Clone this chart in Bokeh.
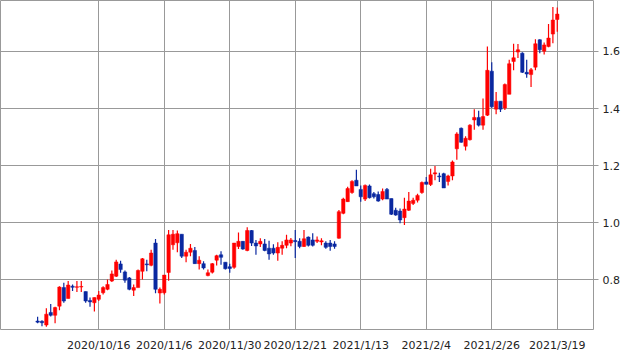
from bokeh.plotting import figure
from bokeh.models import ColumnDataSource, FixedTicker, Range1d, NumeralTickFormatter
from bokeh.embed import file_html
from bokeh.resources import INLINE

tick_pos = [14, 29, 44, 59, 74, 89, 104, 119]
tick_labels = ["2020/10/16", "2020/11/6", "2020/11/30", "2020/12/21",
               "2021/1/13", "2021/2/4", "2021/2/26", "2021/3/19"]

opens = [0.656, 0.655, 0.642, 0.686, 0.676, 0.708, 0.773, 0.735, 0.778, 0.774,
         0.775, 0.759, 0.728, 0.720, 0.732, 0.755, 0.767, 0.796, 0.813, 0.856,
         0.828, 0.807, 0.764, 0.773, 0.830, 0.856, 0.851, 0.929, 0.754, 0.755,
         0.826, 0.923, 0.930, 0.960, 0.883, 0.897, 0.903, 0.857, 0.857, 0.815,
         0.827, 0.869, 0.888, 0.862, 0.846, 0.844, 0.917, 0.935, 0.903, 0.973,
         0.929, 0.926, 0.926, 0.911, 0.911, 0.894, 0.911, 0.921, 0.929, 0.938,
         0.935, 0.917, 0.950, 0.940, 0.935, 0.933, 0.929, 0.929, 0.926, 0.946,
         1.033, 1.074, 1.106, 1.149, 1.117, 1.083, 1.129, 1.102, 1.099, 1.083,
         1.117, 1.085, 1.044, 1.041, 1.018, 1.044, 1.068, 1.079, 1.106, 1.143,
         1.134, 1.171, 1.164, 1.172, 1.145, 1.164, 1.259, 1.331, 1.268, 1.291,
         1.360, 1.369, 1.342, 1.377, 1.531, 1.398, 1.426, 1.402, 1.450, 1.565,
         1.598, 1.594, 1.527, 1.519, 1.545, 1.641, 1.601, 1.617, 1.661, 1.712]
highs = [0.671, 0.659, 0.701, 0.716, 0.706, 0.778, 0.790, 0.796, 0.784, 0.796,
         0.796, 0.759, 0.738, 0.738, 0.761, 0.778, 0.801, 0.833, 0.871, 0.867,
         0.833, 0.810, 0.784, 0.836, 0.877, 0.871, 0.906, 0.943, 0.773, 0.817,
         0.975, 0.975, 0.973, 0.960, 0.906, 0.926, 0.915, 0.883, 0.865, 0.836,
         0.859, 0.888, 0.900, 0.862, 0.857, 0.929, 0.966, 0.935, 0.984, 0.975,
         0.940, 0.946, 0.943, 0.937, 0.925, 0.932, 0.935, 0.958, 0.947, 0.975,
         0.946, 0.975, 0.952, 0.963, 0.952, 0.946, 0.935, 0.940, 0.935, 1.045,
         1.088, 1.126, 1.149, 1.186, 1.131, 1.134, 1.134, 1.108, 1.110, 1.120,
         1.122, 1.085, 1.053, 1.050, 1.088, 1.108, 1.088, 1.102, 1.145, 1.160,
         1.189, 1.199, 1.175, 1.175, 1.168, 1.218, 1.317, 1.334, 1.303, 1.345,
         1.398, 1.392, 1.435, 1.617, 1.562, 1.458, 1.426, 1.488, 1.571, 1.627,
         1.626, 1.597, 1.571, 1.542, 1.643, 1.643, 1.631, 1.696, 1.756, 1.754]
lows = [0.648, 0.638, 0.636, 0.672, 0.648, 0.694, 0.720, 0.735, 0.761, 0.758,
        0.758, 0.720, 0.706, 0.689, 0.726, 0.749, 0.764, 0.793, 0.810, 0.825,
        0.790, 0.764, 0.744, 0.773, 0.801, 0.830, 0.848, 0.753, 0.717, 0.749,
        0.797, 0.906, 0.897, 0.877, 0.862, 0.883, 0.857, 0.836, 0.836, 0.813,
        0.822, 0.850, 0.853, 0.836, 0.825, 0.839, 0.908, 0.906, 0.900, 0.919,
        0.888, 0.915, 0.900, 0.871, 0.888, 0.867, 0.888, 0.911, 0.918, 0.877,
        0.911, 0.915, 0.917, 0.917, 0.929, 0.921, 0.909, 0.902, 0.909, 0.944,
        1.030, 1.074, 1.102, 1.129, 1.074, 1.076, 1.085, 1.085, 1.074, 1.079,
        1.083, 1.027, 1.025, 0.998, 0.992, 1.041, 1.062, 1.071, 1.102, 1.134,
        1.129, 1.149, 1.143, 1.122, 1.131, 1.149, 1.221, 1.280, 1.253, 1.288,
        1.326, 1.337, 1.326, 1.374, 1.403, 1.380, 1.388, 1.395, 1.450, 1.534,
        1.577, 1.525, 1.508, 1.476, 1.534, 1.594, 1.589, 1.615, 1.629, 1.669]
closes = [0.652, 0.650, 0.680, 0.676, 0.703, 0.775, 0.726, 0.782, 0.774, 0.776,
          0.777, 0.726, 0.723, 0.738, 0.747, 0.773, 0.784, 0.821, 0.863, 0.836,
          0.799, 0.767, 0.773, 0.833, 0.874, 0.853, 0.894, 0.767, 0.767, 0.817,
          0.958, 0.960, 0.962, 0.883, 0.897, 0.911, 0.857, 0.869, 0.842, 0.825,
          0.857, 0.885, 0.879, 0.839, 0.840, 0.929, 0.935, 0.908, 0.973, 0.929,
          0.919, 0.935, 0.903, 0.891, 0.894, 0.914, 0.921, 0.940, 0.940, 0.934,
          0.917, 0.944, 0.921, 0.921, 0.940, 0.937, 0.914, 0.917, 0.917, 1.039,
          1.083, 1.120, 1.145, 1.129, 1.091, 1.131, 1.088, 1.091, 1.076, 1.110,
          1.083, 1.030, 1.027, 1.010, 1.048, 1.076, 1.079, 1.096, 1.141, 1.135,
          1.168, 1.175, 1.161, 1.122, 1.164, 1.213, 1.311, 1.282, 1.296, 1.342,
          1.369, 1.342, 1.372, 1.534, 1.406, 1.426, 1.398, 1.484, 1.557, 1.578,
          1.606, 1.527, 1.521, 1.536, 1.627, 1.606, 1.623, 1.647, 1.710, 1.731]

UP = "#ff0000"
DOWN = "#0a28a0"
GRID = "#999999"

idx = list(range(len(opens)))
colors = [UP if c >= o else DOWN for o, c in zip(opens, closes)]
tops = [max(o, c) for o, c in zip(opens, closes)]
bottoms = [min(o, c) for o, c in zip(opens, closes)]

src = ColumnDataSource(dict(x=idx, o=opens, h=highs, l=lows, c=closes,
                            top=tops, bottom=bottoms, color=colors))

p = figure(width=640, height=354, output_backend="svg", toolbar_location=None,
           x_range=Range1d(-8.5, 127.3), y_range=Range1d(0.6263, 1.7785),
           y_axis_location="right",
           min_border_left=0, min_border_top=0, min_border_right=47,
           min_border_bottom=21)

p.segment(x0="x", y0="l", x1="x", y1="h", color="color", line_width=1.2, source=src)
p.vbar(x="x", top="top", bottom="bottom", width=0.78, fill_color="color",
       line_color="color", line_width=0.5, source=src)

p.outline_line_color = GRID
p.outline_line_width = 1
p.background_fill_color = "white"
p.border_fill_color = "white"

xa = p.xaxis[0]
xa.ticker = FixedTicker(ticks=tick_pos)
xa.major_label_overrides = {t: l for t, l in zip(tick_pos, tick_labels)}
xa.major_tick_line_color = None
xa.minor_tick_line_color = None
xa.axis_line_color = None
xa.major_label_standoff = 3
xa.major_label_text_font = "DejaVu Sans"
xa.major_label_text_font_size = "11px"
xa.major_label_text_color = "#222222"

ya = p.yaxis[0]
ya.ticker = FixedTicker(ticks=[0.8, 1.0, 1.2, 1.4, 1.6])
ya.formatter = NumeralTickFormatter(format="0.0")
ya.major_tick_line_color = GRID
ya.major_tick_out = 5
ya.major_tick_in = 0
ya.minor_tick_line_color = None
ya.axis_line_color = None
ya.major_label_standoff = 4
ya.major_label_text_font = "DejaVu Sans"
ya.major_label_text_font_size = "11px"
ya.major_label_text_color = "#222222"

p.xgrid.ticker = FixedTicker(ticks=tick_pos)
p.xgrid.grid_line_color = GRID
p.ygrid.grid_line_color = GRID
p.xgrid.grid_line_width = 1
p.ygrid.grid_line_width = 1

open("out.html", "w").write(file_html(p, INLINE))
